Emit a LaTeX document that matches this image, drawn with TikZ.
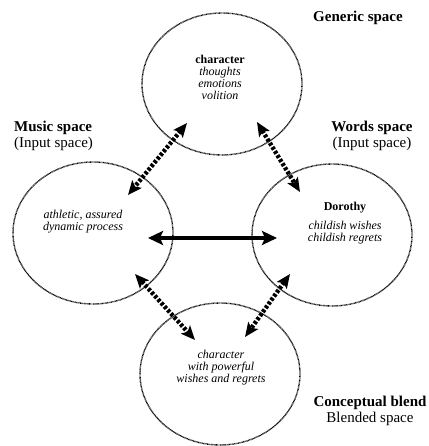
\documentclass[tikz,border=0pt]{standalone}
\usepackage{fontspec}
\setmainfont{Liberation Serif}
\usetikzlibrary{arrows.meta,shapes.geometric,calc}
\tikzset{space/.style={ellipse,draw,line width=1.4pt,dash pattern=on 0.7pt off 0.6pt,minimum width=160pt,minimum height=142pt,inner sep=0pt}, spacetext/.style={align=center,font=\fontsize{12}{12}\selectfont,inner sep=0pt}, title/.style={align=center,font=\fontsize{15}{15.5}\selectfont,inner sep=0pt}, link/.style={{Stealth[length=14pt,width=12pt,inset=3pt]}-{Stealth[length=14pt,width=12pt,inset=3pt]},line width=4.4pt,dash pattern=on 3pt off 1.8pt}, match/.style={{Stealth[length=15pt,width=14pt,inset=3pt]}-{Stealth[length=15pt,width=14pt,inset=3pt]},line width=4pt}}

\begin{document}
\begin{tikzpicture}[x=1pt,y=-1pt]
\useasboundingbox (0,0) rectangle (428,446);
\node[space] (generic) at (222,84) {};
\node[space] (music) at (93,233) {};
\node[space] (words) at (332,235) {};
\node[space] (blend) at (220,374) {};
\node[spacetext] (generictext) at (220,77) {\textbf{character}\\\textit{thoughts}\\\textit{emotions}\\\textit{volition}};
\node[spacetext] (musictext) at (83,222) {\textit{athletic, assured}\\\textit{dynamic process}};
\node[spacetext] (wordstext) at (345,223) {\textbf{Dorothy}\\[7pt]\textit{childish wishes}\\\textit{childish regrets}};
\node[spacetext] (blendtext) at (221,368) {\textit{character}\\\textit{with powerful}\\\textit{wishes and regrets}};
\node[title] (genericlbl) at (358,18) {\textbf{Generic space}};
\node[title,align=left,anchor=west] (musiclbl) at (14,136) {\textbf{Music space}\\(Input space)};
\node[title] (wordslbl) at (372,136) {\textbf{Words space}\\(Input space)};
\node[title] (blendlbl) at (370,411) {\textbf{Conceptual blend}\\Blended space};
\draw[link] ($(generic.center)+(-35,39)$) -- ($(music.center)+(35,-38)$);
\draw[link] ($(generic.center)+(35,38)$) -- ($(words.center)+(-32,-43)$);
\draw[link] ($(music.center)+(42,41)$) -- ($(blend.center)+(-25,-34)$);
\draw[link] ($(words.center)+(-42,39)$) -- ($(blend.center)+(25,-37)$);
\draw[match] ($(music.center)+(55,5)$) -- ($(words.center)+(-55,3)$);
\end{tikzpicture}
\end{document}
